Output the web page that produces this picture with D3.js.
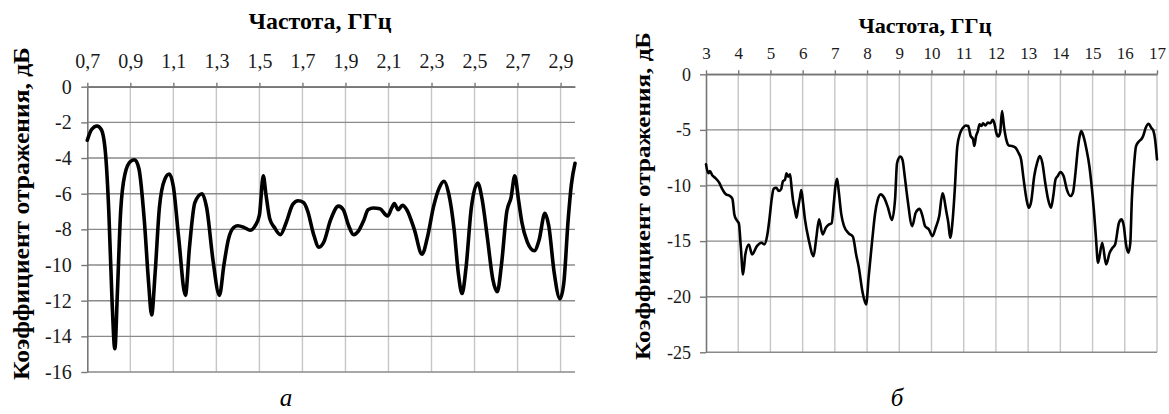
<!DOCTYPE html>
<html>
<head>
<meta charset="utf-8">
<script src="https://cdn.jsdelivr.net/npm/d3@7"></script>
<style>
  body { margin: 0; background: #fff; }
</style>
</head>
<body>
<div id="charts"></div>
<script>
// panel "а": 0,7 - 2,97 GHz
const leftFreq = [
  0.70, 0.72, 0.745, 0.765, 0.785, 0.80, 0.815, 0.828, 0.84, 0.855,
  0.875, 0.90, 0.92, 0.94, 0.965, 0.985, 0.999, 1.015, 1.035, 1.06,
  1.081, 1.10, 1.125, 1.156, 1.175, 1.20, 1.233, 1.255, 1.285, 1.314,
  1.335, 1.355, 1.38, 1.40, 1.43, 1.457, 1.48, 1.50, 1.518, 1.53,
  1.548, 1.57, 1.597, 1.625, 1.655, 1.68, 1.705, 1.725, 1.75, 1.777,
  1.80, 1.83, 1.868, 1.89, 1.915, 1.938, 1.96, 1.985, 2.005, 2.03,
  2.06, 2.096, 2.115, 2.127, 2.145, 2.165, 2.185, 2.22, 2.256, 2.28,
  2.31, 2.335, 2.358, 2.38, 2.405, 2.425, 2.442, 2.46, 2.485, 2.515,
  2.535, 2.56, 2.585, 2.606, 2.625, 2.65, 2.67, 2.687, 2.705, 2.72,
  2.745, 2.778, 2.80, 2.827, 2.845, 2.87, 2.897, 2.915, 2.935, 2.95,
  2.967
];
const leftLoss = [
  -3.0, -2.4, -2.2, -2.4, -3.8, -7.0, -12.0, -14.7, -11.5, -7.0,
  -4.9, -4.2, -4.1, -4.6, -7.5, -11.0, -12.8, -10.5, -6.8, -5.2,
  -4.9, -5.6, -8.5, -11.7, -9.0, -6.5, -6.0, -6.8, -9.8, -11.7,
  -10.0, -8.6, -7.9, -7.8, -7.9, -8.05, -7.8, -7.2, -5.0, -6.0,
  -7.4, -7.9, -8.3, -7.6, -6.6, -6.4, -6.5, -7.0, -8.2, -9.0,
  -8.7, -7.5, -6.7, -6.9, -7.8, -8.3, -8.1, -7.5, -6.9, -6.8,
  -6.85, -7.25, -6.8, -6.55, -6.9, -6.65, -6.9, -8.0, -9.4, -8.5,
  -6.7, -5.7, -5.3, -6.0, -8.0, -10.5, -11.6, -10.2, -6.8, -5.4,
  -6.3, -8.5, -10.8, -11.5, -10.0, -7.0, -6.2, -5.0, -6.4, -7.6,
  -8.7, -9.2, -8.6, -7.1, -7.8, -10.4, -11.9, -11.0, -7.5, -5.5,
  -4.3
];

// panel "б": 3 - 17 GHz
const rightFreq = [
  3.00, 3.07, 3.12, 3.20, 3.28, 3.40, 3.52, 3.62, 3.72, 3.82,
  3.88, 3.95, 4.02, 4.08, 4.15, 4.22, 4.33, 4.43, 4.58, 4.72,
  4.81, 4.90, 4.97, 5.04, 5.10, 5.18, 5.26, 5.33, 5.39, 5.45,
  5.50, 5.55, 5.61, 5.66, 5.70, 5.76, 5.81, 5.86, 5.92, 5.96,
  6.01, 6.07, 6.19, 6.34, 6.42, 6.51, 6.62, 6.72, 6.82, 6.90,
  6.97, 7.02, 7.07, 7.12, 7.20, 7.28, 7.43, 7.56, 7.66, 7.74,
  7.86, 7.97, 8.05, 8.16, 8.25, 8.33, 8.42, 8.53, 8.65, 8.77,
  8.87, 8.93, 9.03, 9.10, 9.17, 9.26, 9.40, 9.51, 9.63, 9.72,
  9.80, 9.92, 10.03, 10.13, 10.24, 10.34, 10.47, 10.52, 10.58, 10.66,
  10.72, 10.80, 10.89, 10.98, 11.06, 11.14, 11.21, 11.29, 11.33, 11.38,
  11.44, 11.49, 11.55, 11.60, 11.67, 11.75, 11.83, 11.90, 11.96, 12.01,
  12.07, 12.13, 12.19, 12.25, 12.32, 12.40, 12.50, 12.61, 12.70, 12.78,
  12.86, 12.95, 13.02, 13.09, 13.19, 13.28, 13.36, 13.44, 13.53, 13.62,
  13.71, 13.78, 13.85, 13.92, 14.00, 14.10, 14.20, 14.31, 14.39, 14.47,
  14.54, 14.60, 14.65, 14.73, 14.81, 14.90, 14.96, 15.04, 15.10, 15.17,
  15.30, 15.42, 15.53, 15.62, 15.70, 15.82, 15.90, 15.97, 16.03, 16.11,
  16.17, 16.22, 16.27, 16.35, 16.45, 16.51, 16.57, 16.65, 16.74, 16.82,
  16.89, 16.94, 17.00
];
const rightLoss = [
  -8.1, -8.9, -8.7, -9.1, -9.3, -9.7, -10.4, -10.8, -10.9, -11.2,
  -12.6, -13.1, -13.4, -15.5, -18.0, -16.2, -15.3, -16.2, -15.45, -15.15,
  -15.3, -14.5, -13.0, -11.2, -10.3, -10.2, -10.5, -10.35, -9.6, -9.5,
  -8.9, -9.2, -9.0, -10.3, -11.3, -12.2, -12.9, -12.0, -11.0, -10.4,
  -11.5, -13.0, -14.9, -16.35, -14.8, -13.05, -14.4, -13.8, -13.5, -13.4,
  -11.5, -10.0, -9.4, -10.5, -12.6, -13.6, -14.3, -14.6, -16.2, -17.3,
  -19.6, -20.7, -18.2, -14.9, -12.5, -11.3, -10.8, -11.1, -12.0, -13.1,
  -11.2, -8.0, -7.4, -7.7, -9.2, -11.3, -13.65, -12.45, -12.1, -12.75,
  -13.65, -13.95, -14.55, -13.8, -12.75, -10.7, -12.5, -13.3, -14.7, -13.0,
  -10.5, -6.5, -5.3, -4.8, -4.6, -4.65, -5.5, -5.85, -6.45, -5.6,
  -5.1, -4.5, -4.65, -4.4, -4.6, -4.35, -4.4, -4.1, -4.5, -5.25,
  -5.6, -5.25, -3.3, -4.7, -5.85, -6.4, -6.45, -6.6, -7.05, -7.65,
  -9.45, -11.25, -12.0, -11.5, -9.15, -7.95, -7.35, -7.95, -9.75, -11.25,
  -12.0, -10.95, -9.45, -9.15, -8.8, -9.15, -10.35, -10.95, -10.65, -8.85,
  -6.75, -5.55, -5.1, -5.7, -6.75, -8.25, -9.75, -12.2, -14.5, -16.95,
  -15.15, -17.1, -16.05, -15.6, -15.3, -13.35, -13.05, -13.65, -15.15, -16.05,
  -15.2, -11.2, -8.85, -6.45, -6.0, -5.85, -5.55, -4.8, -4.45, -4.8,
  -5.1, -5.85, -7.65
];

const leftXTicks = [0.7, 0.9, 1.1, 1.3, 1.5, 1.7, 1.9, 2.1, 2.3, 2.5, 2.7, 2.9];
const leftYTicks = [0, -2, -4, -6, -8, -10, -12, -14, -16];
const rightXTicks = [3, 4, 5, 6, 7, 8, 9, 10, 11, 12, 13, 14, 15, 16, 17];
const rightYTicks = [0, -5, -10, -15, -20, -25];

const xTitle = "Частота, ГГц";
const yTitle = "Коэффициент отражения, дБ";
const panelNames = ["а", "б"];

(function() {
  const WIDTH = 1169;
  const HEIGHT = 414;
  const FONT = "'Liberation Serif', 'DejaVu Serif', 'Noto Serif', 'Times New Roman', serif";
  const TEXT_COLOR = "#1a1a1a";
  const H_GRID = "#8a8a8a";
  const V_GRID = "#c6c6c6";
  const AXIS_COLOR = "#777";

  const svg = d3
    .select("#charts")
    .append("svg")
    .attr("width", WIDTH)
    .attr("height", HEIGHT)
    .style("display", "block")
    .style("background", "#fff");

  const panels = [
    {
      name: panelNames[0],
      freq: leftFreq,
      loss: leftLoss,
      xTicks: leftXTicks,
      yTicks: leftYTicks,
      xDomain: [0.7, 2.967],
      yDomain: [-16, 0],
      left: 87.3,
      right: 575,
      top: 86.7,
      bottom: 372,
      xFormat: d => d.toFixed(1).replace(".", ","),
      tickFont: 20,
      yTickFont: 20,
      xPadding: 14.3,
      yPadding: 9.6,
      titleX: 320,
      titleY: 29,
      titleSize: 24,
      titleLength: 143,
      yTitleX: 21,
      yTitleY: 213.5,
      yTitleSize: 24,
      yTitleLength: 333,
      lineWidth: 3.6,
      nameX: 286,
      nameY: 406
    },
    {
      name: panelNames[1],
      freq: rightFreq,
      loss: rightLoss,
      xTicks: rightXTicks,
      yTicks: rightYTicks,
      xDomain: [3, 17],
      yDomain: [-25, 0],
      left: 706,
      right: 1157,
      top: 74.3,
      bottom: 352.3,
      xFormat: d => String(d),
      tickFont: 17,
      yTickFont: 18,
      xPadding: 11.5,
      yPadding: 9,
      titleX: 925,
      titleY: 33,
      titleSize: 22,
      titleLength: 133,
      yTitleX: 643,
      yTitleY: 196,
      yTitleSize: 22,
      yTitleLength: 328,
      lineWidth: 2.6,
      nameX: 897,
      nameY: 406
    }
  ];

  function drawPanel(p) {
    const x = d3.scaleLinear().domain(p.xDomain).range([p.left, p.right]);
    const y = d3.scaleLinear().domain(p.yDomain).range([p.bottom, p.top]);
    const g = svg.append("g");

    // vertical grid
    g.append("g")
      .selectAll("line")
      .data(p.xTicks.filter(t => t > p.xDomain[0]))
      .enter()
      .append("line")
      .attr("x1", d => x(d))
      .attr("x2", d => x(d))
      .attr("y1", p.top)
      .attr("y2", p.bottom)
      .attr("stroke", V_GRID)
      .attr("stroke-width", 1.4);

    // horizontal grid
    g.append("g")
      .selectAll("line")
      .data(p.yTicks)
      .enter()
      .append("line")
      .attr("x1", p.left)
      .attr("x2", p.right)
      .attr("y1", d => y(d))
      .attr("y2", d => y(d))
      .attr("stroke", H_GRID)
      .attr("stroke-width", 1.4);

    const xAxis = g
      .append("g")
      .attr("transform", `translate(0,${p.top})`)
      .call(
        d3
          .axisTop(x)
          .tickValues(p.xTicks)
          .tickFormat(p.xFormat)
          .tickSizeInner(4)
          .tickSizeOuter(0)
          .tickPadding(p.xPadding)
      );

    const yAxis = g
      .append("g")
      .attr("transform", `translate(${p.left},0)`)
      .call(
        d3
          .axisLeft(y)
          .tickValues(p.yTicks)
          .tickFormat(d => String(d))
          .tickSizeInner(6)
          .tickSizeOuter(0)
          .tickPadding(p.yPadding)
      );

    [xAxis, yAxis].forEach(axis => {
      axis.select(".domain").attr("stroke", AXIS_COLOR).attr("stroke-width", 1.6);
      axis.selectAll(".tick line").attr("stroke", AXIS_COLOR).attr("stroke-width", 1.4);
      axis
        .selectAll("text")
        .attr("fill", TEXT_COLOR)
        .attr("font-family", null)
        .style("font-family", FONT);
    });
    xAxis.attr("font-family", null);
    yAxis.attr("font-family", null);
    xAxis.selectAll("text").style("font-size", `${p.tickFont}px`);
    yAxis.selectAll("text").style("font-size", `${p.yTickFont}px`);

    const line = d3
      .line()
      .x((d, i) => x(p.freq[i]))
      .y(d => y(d))
      .curve(d3.curveMonotoneX);

    g.append("path")
      .datum(p.loss)
      .attr("d", line)
      .attr("fill", "none")
      .attr("stroke", "#000")
      .attr("stroke-width", p.lineWidth)
      .attr("stroke-linejoin", "round")
      .attr("stroke-linecap", "round");

    g.append("text")
      .attr("x", p.titleX)
      .attr("y", p.titleY)
      .attr("text-anchor", "middle")
      .attr("textLength", p.titleLength)
      .attr("lengthAdjust", "spacingAndGlyphs")
      .style("font-family", FONT)
      .style("font-weight", "bold")
      .style("font-size", `${p.titleSize}px`)
      .attr("fill", "#000")
      .text(xTitle);

    g.append("text")
      .attr("transform", `translate(${p.yTitleX},${p.yTitleY}) rotate(-90)`)
      .attr("text-anchor", "middle")
      .attr("dy", "0.32em")
      .attr("textLength", p.yTitleLength)
      .attr("lengthAdjust", "spacingAndGlyphs")
      .style("font-family", FONT)
      .style("font-weight", "bold")
      .style("font-size", `${p.yTitleSize}px`)
      .attr("fill", "#000")
      .text(yTitle);

    g.append("text")
      .attr("x", p.nameX)
      .attr("y", p.nameY)
      .attr("text-anchor", "middle")
      .style("font-family", FONT)
      .style("font-style", "italic")
      .style("font-size", "25px")
      .attr("fill", "#000")
      .text(p.name);
  }

  panels.forEach(drawPanel);
})();
</script>
</body>
</html>
